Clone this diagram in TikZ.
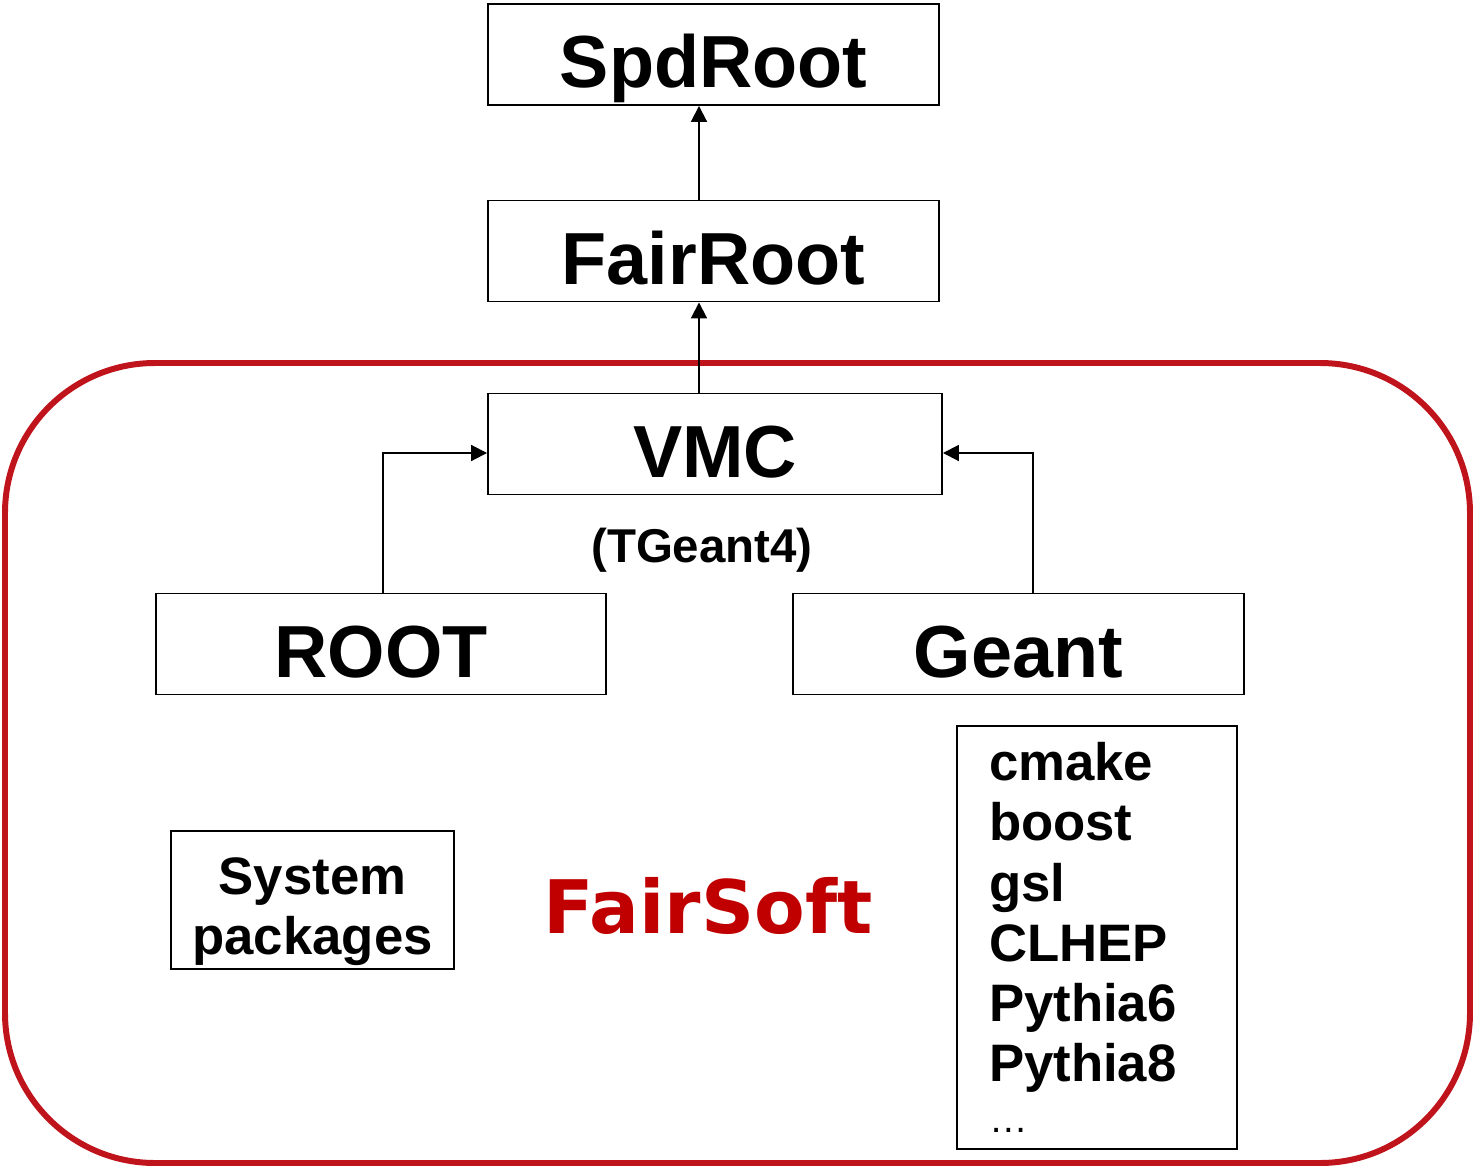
\documentclass[tikz,border=0pt]{standalone}
\usepackage{fontspec}
\setmainfont{Liberation Sans}
\newfontfamily\softfont{DejaVu Sans}
\usetikzlibrary{arrows.meta}
\definecolor{fsred}{RGB}{192,20,28}
\definecolor{fstext}{RGB}{192,0,0}
\tikzset{
  pkg/.style={draw, line width=1.1pt, minimum width=9.02cm, minimum height=2.02cm, inner sep=0pt,
    font=\fontsize{42}{48}\selectfont\bfseries, text height=42pt, text depth=4.2pt},
  small/.style={font=\fontsize{30}{34.3}\selectfont\bfseries},
  dep/.style={line width=1.1pt, -{Triangle[length=9pt,width=9pt]}}
}
\begin{document}
\begin{tikzpicture}
\useasboundingbox (0,0) rectangle (29.46,-23.32);
% FairSoft frame
\draw[fsred, line width=3.4pt, rounded corners=3cm] (0.1,-7.26) rectangle (29.4,-23.26);

\node[pkg] (spd) at (14.27,-1.09) {SpdRoot};
\node[pkg] (fair) at (14.27,-5.02) {FairRoot};
\node[pkg, minimum width=9.08cm] (vmc) at (14.30,-8.88) {VMC};
\node[pkg, minimum width=9.0cm] (root) at (7.62,-12.88) {ROOT};
\node[pkg] (geant) at (20.37,-12.88) {Geant};
\node[font=\fontsize{27}{32}\selectfont\bfseries, anchor=base] (tg4) at (14.04,-11.24) {(TGeant4)};

\node[small, draw, line width=1.1pt, minimum width=5.66cm, minimum height=2.76cm, inner sep=0pt,
  align=center] (sys) at (6.25,-18.0) {\rule{0pt}{34pt}System\\packages};
\node[font=\softfont\fontsize{42}{48}\selectfont\bfseries, text=fstext, anchor=base] (soft) at (14.16,-18.66) {FairSoft};
\node[small, draw, line width=1.1pt, text width=4.32cm, inner xsep=0.64cm, inner ysep=0pt,
  minimum height=8.46cm, align=left] (libs) at (21.94,-18.75)
  {cmake\\boost\\gsl\\CLHEP\\Pythia6\\Pythia8\\[-5.4pt]{\fontsize{22}{34.3}\selectfont\mdseries\ldots}};

% dependencies
\coordinate (stem) at (13.98,0);
\coordinate (lin) at (7.66,-9.06);
\coordinate (rin) at (20.66,-9.06);
\draw[dep] (stem |- fair.north) -- (stem |- spd.south);
\draw[dep] (stem |- vmc.north) -- (stem |- fair.south);
\draw[dep] (lin |- root.north) |- (vmc.west |- lin);
\draw[dep] (rin |- geant.north) |- (vmc.east |- rin);
\end{tikzpicture}
\end{document}
